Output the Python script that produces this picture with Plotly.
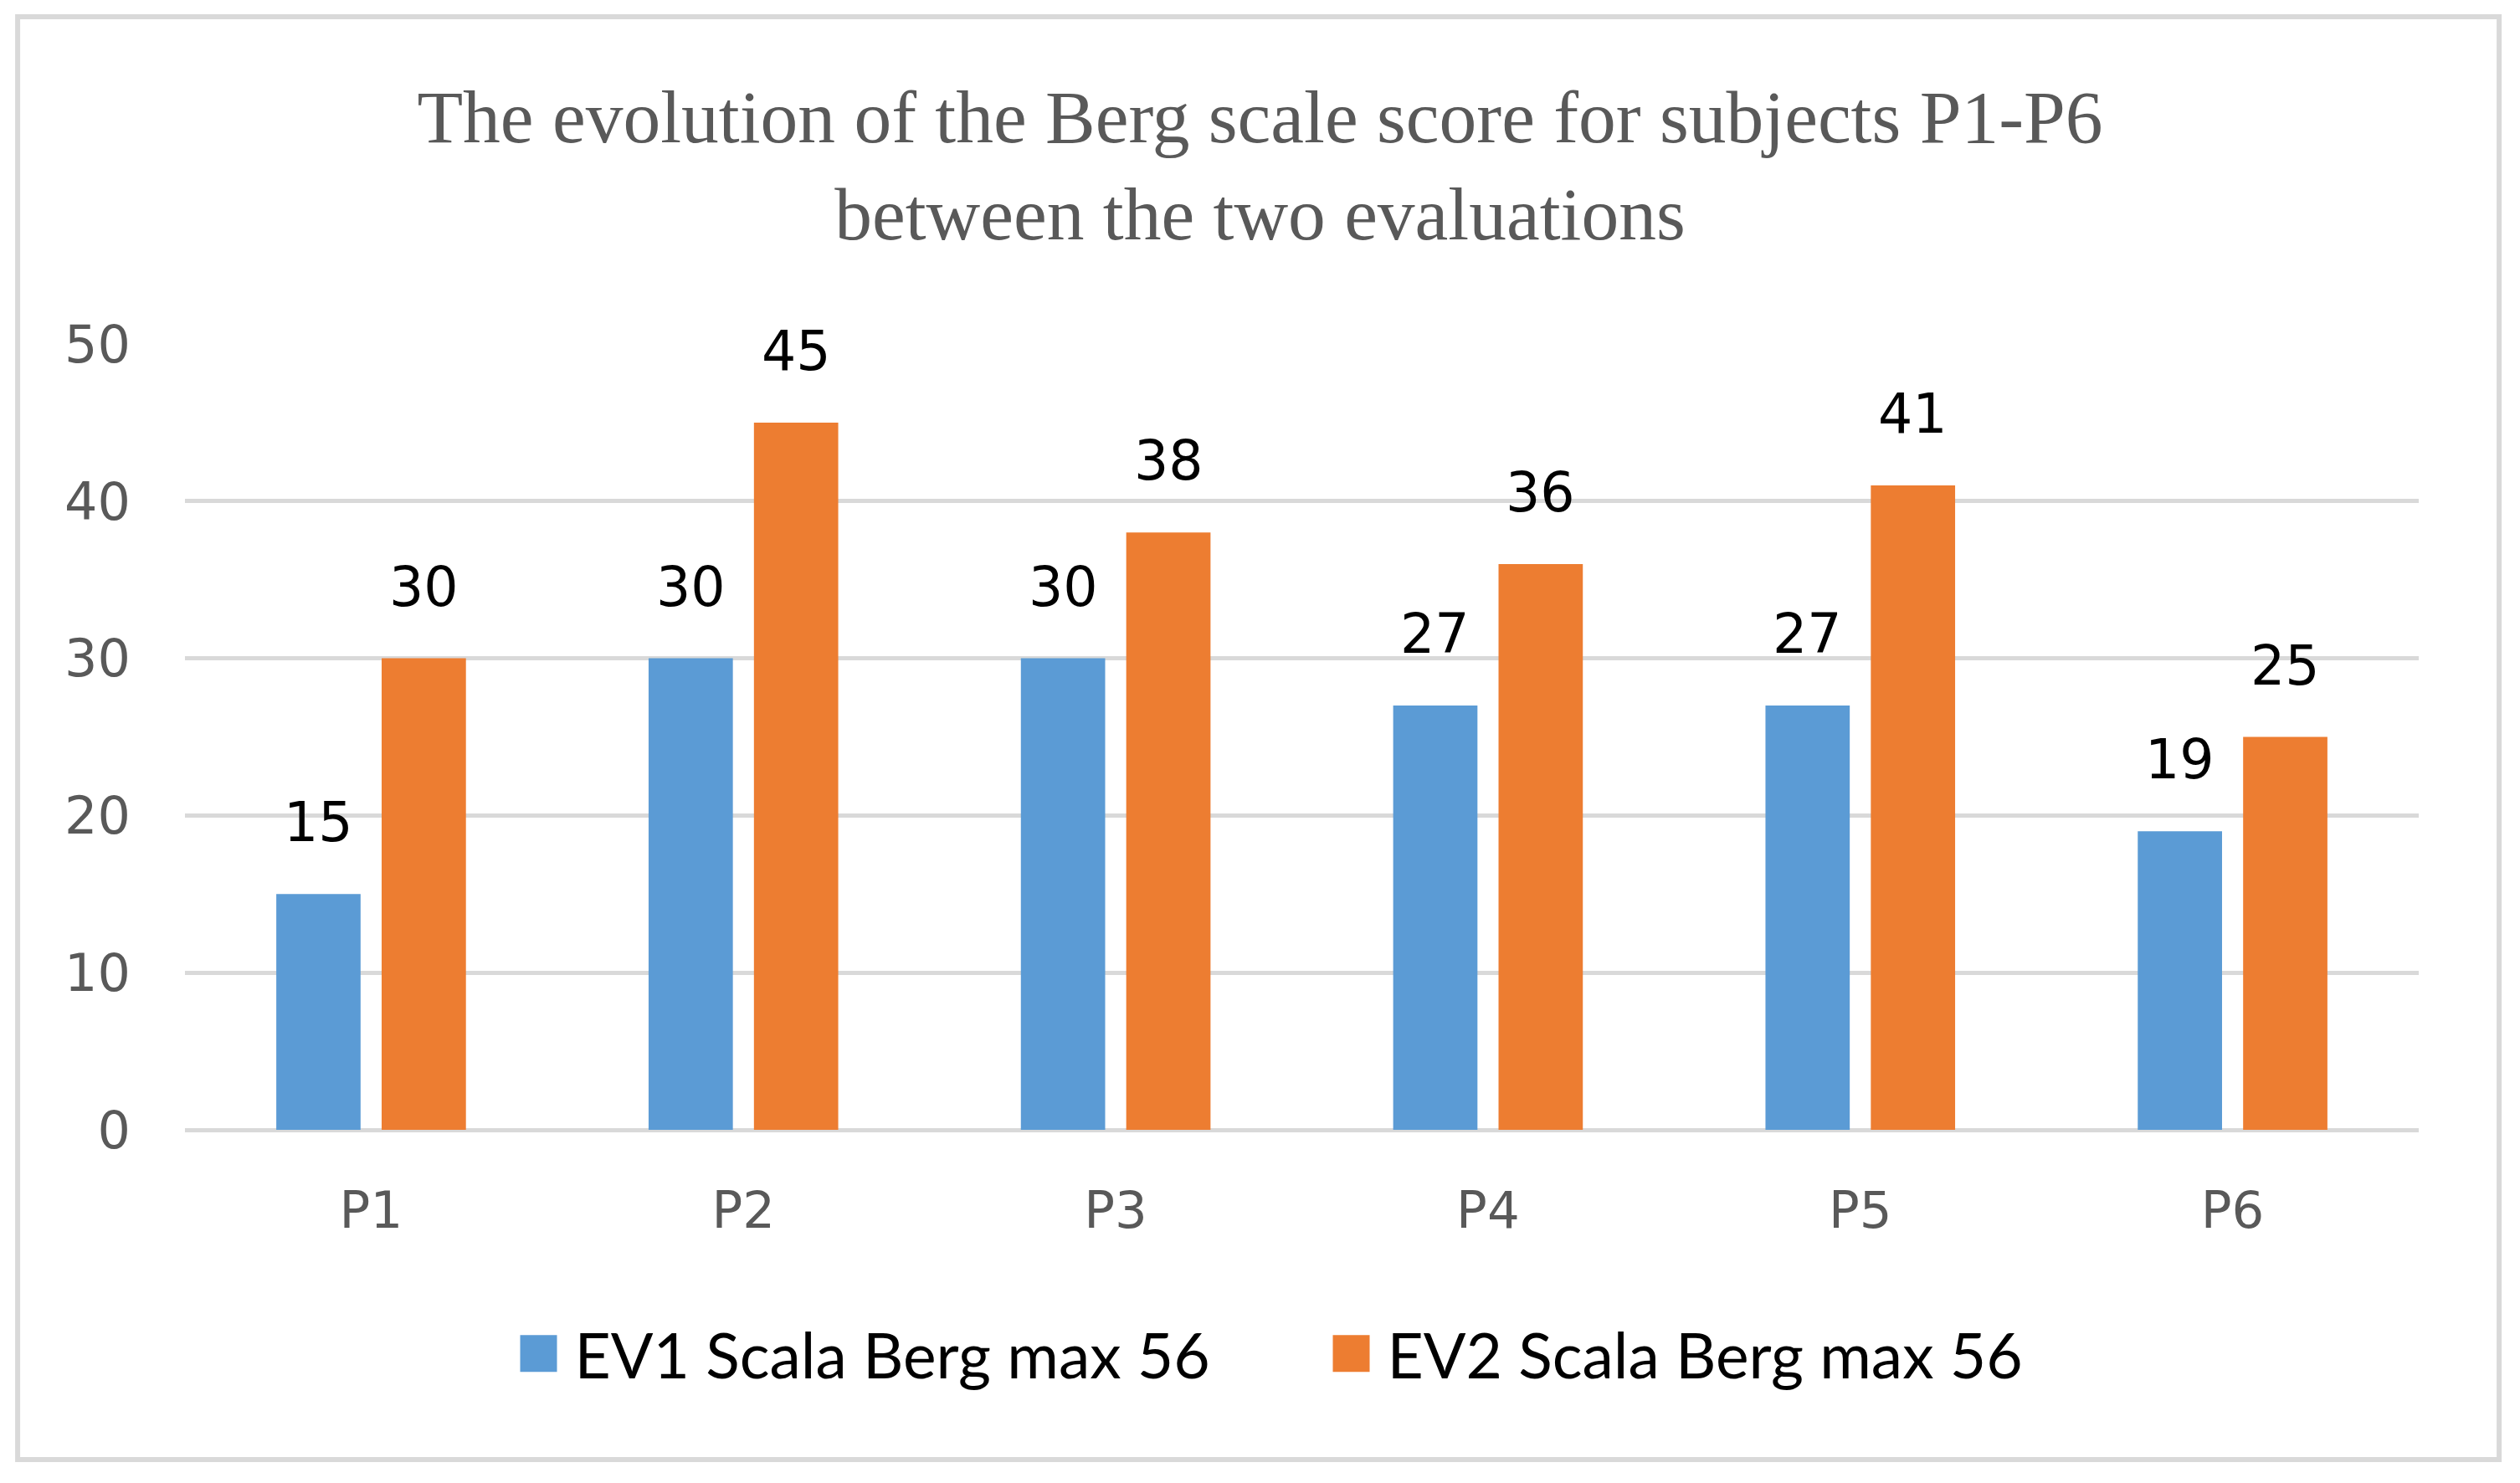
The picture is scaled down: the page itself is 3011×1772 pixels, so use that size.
import plotly.graph_objects as go

categories = ["P1", "P2", "P3", "P4", "P5", "P6"]
ev1_values = [15, 30, 30, 27, 27, 19]
ev2_values = [30, 45, 38, 36, 41, 25]
series_names = ["EV1 Scala Berg max 56", "EV2 Scala Berg max 56"]
y_ticks = [0, 10, 20, 30, 40, 50]
title_lines = ["The evolution of the Berg scale score for subjects P1-P6",
               "between the two evaluations"]

BLUE = "#5B9BD5"
ORANGE = "#ED7D31"
GRID = "#D9D9D9"
GRAY = "#595959"

fig = go.Figure()
fig.add_trace(go.Bar(x=categories, y=ev1_values, name=series_names[0],
                     marker=dict(color=BLUE, line=dict(width=0))))
fig.add_trace(go.Bar(x=categories, y=ev2_values, name=series_names[1],
                     marker=dict(color=ORANGE, line=dict(width=0))))

annotations = []
for vals, shift in ((ev1_values, -63), (ev2_values, 63)):
    for c, v in zip(categories, vals):
        annotations.append(dict(x=c, y=v, xref="x", yref="y", text=str(v),
                                showarrow=False, xshift=shift, yshift=46,
                                yanchor="bottom", xanchor="center",
                                font=dict(family="DejaVu Sans", size=65, color="#000000")))

fig.update_layout(
    width=3011, height=1772,
    margin=dict(l=221, r=121, t=411, b=422, autoexpand=False),
    paper_bgcolor="white", plot_bgcolor="white",
    barmode="group", bargap=0.434, bargroupgap=0.2,
    title=dict(text="<br>".join(title_lines), x=0.5, xref="container", xanchor="center",
               y=1 - 170 / 1772, yref="container", yanchor="top",
               font=dict(family="Liberation Serif", size=89.5, color=GRAY)),
    xaxis=dict(showgrid=False, showline=False, ticks="", ticklabelstandoff=55,
               tickfont=dict(family="DejaVu Sans", size=61, color=GRAY)),
    yaxis=dict(range=[0, 50], tickvals=y_ticks, showgrid=True, gridcolor=GRID, gridwidth=5,
               zeroline=True, zerolinecolor=GRID, zerolinewidth=5, showline=False, ticks="",
               ticklabelstandoff=64,
               tickfont=dict(family="DejaVu Sans", size=62, color=GRAY)),
    legend=dict(orientation="h", x=0.506, xanchor="center", y=-0.285, yanchor="middle",
                xref="paper", yref="paper", itemwidth=76, traceorder="normal",
                entrywidth=880, entrywidthmode="pixels",
                font=dict(family="Lato", size=75, color="#000000"),
                itemclick=False, itemdoubleclick=False),
    annotations=annotations,
    shapes=[dict(type="rect", xref="paper", yref="paper",
                 x0=-0.0749, x1=1.036, y0=-0.4196, y1=1.4164,
                 line=dict(color=GRID, width=6), fillcolor="rgba(0,0,0,0)", layer="below")],
)

post = """
document.body.style.margin = '0';
var gd = document.getElementById('{plot_id}');
gd.querySelectorAll('.legend .legendpoints path').forEach(function(p){
  p.setAttribute('d', 'M22,22H-22V-22H22Z');
});
"""

fig.write_html("out.html", post_script=post, config={"displayModeBar": False})
